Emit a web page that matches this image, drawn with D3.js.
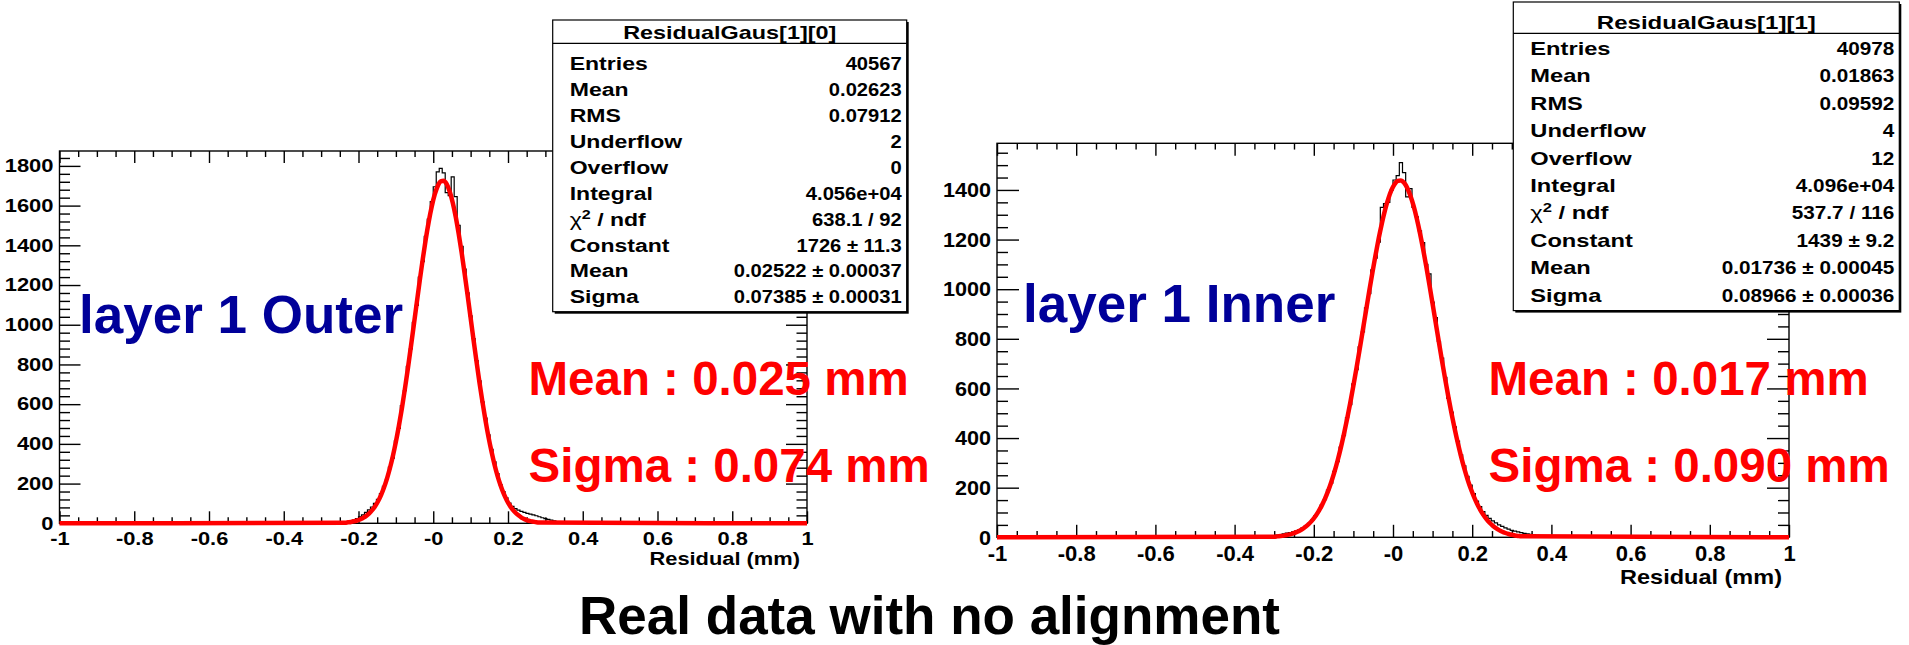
<!DOCTYPE html>
<html>
<head>
<meta charset="utf-8">
<script src="https://cdn.jsdelivr.net/npm/d3@7"></script>
<style>
  html, body { margin: 0; padding: 0; background: #fff; }
  svg { display: block; font-family: "Liberation Sans", Arial, Helvetica, sans-serif; }
</style>
</head>
<body>
<div id="chart"></div>
<script>
// ---- data ----
const binWidth = 0.008;

// layer 1 Outer: bin contents, first bin starts at -0.240
const outerStart = -0.240;
const outerCounts = [5, 8, 12, 16, 24, 32, 42, 55, 68, 82,
  100, 120, 150, 186, 221, 283, 328, 415, 478, 593,
  668, 790, 878, 1012, 1098, 1240, 1318, 1445, 1532, 1620,
  1695, 1770, 1788, 1765, 1665, 1650, 1745, 1645, 1500, 1395,
  1280, 1160, 1045, 930, 820, 718, 612, 530, 445, 372,
  310, 250, 195, 160, 128, 102, 85, 74, 66, 60,
  55, 50, 46, 42, 38, 33, 28, 24, 20, 16,
  12, 6, 3];
// red fit curve, sampled every 0.008 from -0.236
const outerFitStart = -0.236;
const outerFit = [3, 5, 7, 10, 14, 19, 27, 36, 49, 65,
  85, 110, 141, 179, 224, 277, 339, 410, 490, 578,
  675, 778, 887, 999, 1112, 1224, 1331, 1431, 1520, 1596,
  1656, 1699, 1722, 1725, 1708, 1671, 1616, 1545, 1459, 1363,
  1257, 1147, 1034, 921, 811, 705, 607, 516, 433, 360,
  295, 239, 192, 152, 119, 92, 70, 53, 40, 29,
  21, 15, 11, 8, 5, 4];

// layer 1 Inner: first bin starts at -0.304
const innerStart = -0.304;
const innerCounts = [6, 9, 11, 14, 17, 19, 22, 26, 31, 38,
  46, 56, 69, 86, 104, 130, 152, 190, 218, 266,
  305, 364, 410, 482, 535, 618, 676, 768, 828, 925,
  982, 1078, 1125, 1190, 1330, 1345, 1350, 1398, 1440, 1458,
  1510, 1470, 1372, 1405, 1330, 1292, 1235, 1188, 1100, 1062,
  948, 885, 790, 722, 645, 560, 505, 445, 388, 332,
  288, 246, 210, 176, 146, 124, 104, 88, 76, 66,
  58, 50, 44, 38, 33, 28, 25, 22, 19, 16,
  14, 12, 10, 8, 5, 3];
const innerFitStart = -0.300;
const innerFit = [2.7, 3.7, 5.1, 6.8, 9.1, 12, 15.8, 20.6, 26.6, 34,
  43.3, 54.6, 68.4, 84.8, 104.5, 127.6, 154.7, 186, 222, 262.6,
  308.5, 359.5, 415.3, 476.2, 541.5, 611, 684.1, 759.6, 836.9, 914.8,
  991.9, 1066.9, 1138.5, 1205.6, 1266.2, 1319.4, 1363.9, 1398.9, 1423.2, 1436.4,
  1438.4, 1428.9, 1408.2, 1376.8, 1335.4, 1285, 1226.7, 1161.8, 1091.6, 1017.4,
  940.8, 863.1, 785.5, 709.1, 635.2, 564.5, 497.6, 435.2, 377.6, 325.1,
  277.6, 235.1, 197.6, 164.8, 136.3, 111.8, 91, 73.5, 58.9, 46.8,
  36.9, 28.9, 22.4, 17.3, 13.2, 10, 7.5, 5.6, 4.1];

const xTicks = [-1, -0.8, -0.6, -0.4, -0.2, 0, 0.2, 0.4, 0.6, 0.8, 1];
const xTickLabels = ["-1", "-0.8", "-0.6", "-0.4", "-0.2", "-0", "0.2", "0.4", "0.6", "0.8", "1"];
const outerYTicks = [0, 200, 400, 600, 800, 1000, 1200, 1400, 1600, 1800];
const innerYTicks = [0, 200, 400, 600, 800, 1000, 1200, 1400];

const statNames = ["Entries", "Mean", "RMS", "Underflow", "Overflow", "Integral", "chi2", "Constant", "Mean", "Sigma"];
const outerStats = ["40567", "0.02623", "0.07912", "2", "0", "4.056e+04", "638.1 / 92", "1726 \u00b1 11.3", "0.02522 \u00b1 0.00037", "0.07385 \u00b1 0.00031"];
const innerStats = ["40978", "0.01863", "0.09592", "4", "12", "4.096e+04", "537.7 / 116", "1439 \u00b1 9.2", "0.01736 \u00b1 0.00045", "0.08966 \u00b1 0.00036"];

// ---- page ----
const W = 1909, H = 645;
const svg = d3.select("#chart").append("svg")
    .attr("width", W)
    .attr("height", H);
svg.append("rect").attr("width", W).attr("height", H).attr("fill", "#fff");

// small helper: text that can be stretched sideways (the slide images are stretched)
function putText(parent, str, x, y, size, anchor, sx, color) {
    return parent.append("text")
        .attr("transform", `translate(${x},${y}) scale(${sx},1)`)
        .attr("text-anchor", anchor)
        .attr("font-size", size)
        .attr("font-weight", "bold")
        .attr("fill", color || "#000")
        .text(str);
}

function drawPanel(p) {
    const x = d3.scaleLinear().domain([-1, 1]).range([p.x0, p.x1]);
    const y = d3.scaleLinear().domain([0, p.yMax]).range([p.yBot, p.yTop]);
    const g = svg.append("g");

    const xMinor = d3.range(-1, 1.0001, 0.05).filter(v => Math.abs(v * 5 - Math.round(v * 5)) > 1e-6);
    const yMinor = d3.range(0, p.yMax, p.yMinor).filter(v => v % 200 !== 0);

    function axis(gen, tr) {
        const a = g.append("g").attr("transform", tr).attr("font-family", null).call(gen);
        a.select(".domain").remove();
        a.selectAll("line").attr("stroke-width", 1.4);
        return a;
    }

    // x axis bottom, with labels
    const bx = axis(d3.axisBottom(x).tickValues(xTicks).tickSize(-p.tickX)
        .tickPadding(p.xPad).tickFormat((d, i) => xTickLabels[i]), `translate(0,${p.yBot})`);
    bx.selectAll("text")
        .attr("font-size", p.xFont).attr("font-weight", "bold").attr("fill", "#000")
        .attr("transform", `scale(${p.xStretch},1)`);
    axis(d3.axisBottom(x).tickValues(xMinor).tickSize(-p.tickX / 2).tickFormat(""), `translate(0,${p.yBot})`);
    // x axis top, ticks only
    axis(d3.axisTop(x).tickValues(xTicks).tickSize(-p.tickX).tickFormat(""), `translate(0,${p.yTop})`);
    axis(d3.axisTop(x).tickValues(xMinor).tickSize(-p.tickX / 2).tickFormat(""), `translate(0,${p.yTop})`);

    // y axis left, with labels
    const ly = axis(d3.axisLeft(y).tickValues(p.yTicks).tickSize(-p.tickY).tickPadding(6)
        .tickFormat(d3.format("d")), `translate(${p.x0},0)`);
    ly.selectAll("text")
        .attr("x", 0)
        .attr("font-size", p.yFont).attr("font-weight", "bold").attr("fill", "#000")
        .attr("transform", `translate(-6,0) scale(${p.yStretch},1)`);
    axis(d3.axisLeft(y).tickValues(yMinor).tickSize(-p.tickY / 2).tickFormat(""), `translate(${p.x0},0)`);
    // y axis right, ticks only
    axis(d3.axisRight(y).tickValues(p.yTicks).tickSize(-p.tickY).tickFormat(""), `translate(${p.x1},0)`);
    axis(d3.axisRight(y).tickValues(yMinor).tickSize(-p.tickY / 2).tickFormat(""), `translate(${p.x1},0)`);

    // frame
    g.append("rect")
        .attr("x", p.x0).attr("y", p.yTop)
        .attr("width", p.x1 - p.x0).attr("height", p.yBot - p.yTop)
        .attr("fill", "none").attr("stroke", "#000").attr("stroke-width", 1.4);

    // histogram as a step outline
    const pts = [{ x: -1, y: 0 }]
        .concat(p.counts.map((c, i) => ({ x: p.start + i * binWidth, y: c })))
        .concat([{ x: p.start + p.counts.length * binWidth, y: 0 }, { x: 1, y: 0 }]);
    g.append("path")
        .attr("d", d3.line().x(d => x(d.x)).y(d => y(d.y)).curve(d3.curveStepAfter)(pts))
        .attr("fill", "none").attr("stroke", "#000").attr("stroke-width", 1.2);

    // gaussian fit, red
    const fpts = [{ x: -1, y: 0 }]
        .concat(p.fit.map((v, i) => ({ x: p.fitStart + i * binWidth, y: v })))
        .concat([{ x: 1, y: 0 }]);
    g.append("path")
        .attr("d", d3.line().x(d => x(d.x)).y(d => y(d.y)).curve(d3.curveMonotoneX)(fpts))
        .attr("fill", "none").attr("stroke", "#ff0000").attr("stroke-width", 4.5)
        .attr("stroke-linejoin", "round");

    // axis title
    putText(g, "Residual (mm)", p.x1 - 7, p.titleY, p.titleFont, "end", p.titleStretch);
}

function drawStats(b, title, values) {
    const g = svg.append("g");
    g.append("rect").attr("x", b.x + 2).attr("y", b.y + 2).attr("width", b.w).attr("height", b.h).attr("fill", "#000");
    g.append("rect").attr("x", b.x).attr("y", b.y).attr("width", b.w).attr("height", b.h)
        .attr("fill", "#fff").attr("stroke", "#000").attr("stroke-width", 1.2);
    g.append("line").attr("x1", b.x).attr("x2", b.x + b.w).attr("y1", b.sep).attr("y2", b.sep)
        .attr("stroke", "#000").attr("stroke-width", 1.2);
    putText(g, title, b.x + b.w / 2, b.titleY, b.font, "middle", 1.3);
    statNames.forEach((name, i) => {
        const yy = b.row0 + i * b.pitch;
        if (name === "chi2") {
            const t = putText(g, "", b.x + 17, yy, b.font, "start", 1.28);
            t.append("tspan").attr("font-weight", "normal").text("\u03c7");
            t.append("tspan").attr("font-size", b.font * 0.7).attr("dy", -7).text("2");
            t.append("tspan").attr("dy", 7).text(" / ndf");
        } else {
            putText(g, name, b.x + 17, yy, b.font, "start", 1.28);
        }
        putText(g, values[i], b.x + b.w - 5, yy, b.font, "end", 1.12);
    });
}

drawPanel({
    counts: outerCounts, start: outerStart, fit: outerFit, fitStart: outerFitStart, yTicks: outerYTicks,
    x0: 59.5, x1: 807, yTop: 151, yBot: 523.3, yMax: 1875, yMinor: 40,
    tickX: 12, tickY: 21,
    xFont: 17.5, xStretch: 1.25, xPad: 9,
    yFont: 18, yStretch: 1.22,
    titleY: 565, titleFont: 19, titleStretch: 1.15
});
drawPanel({
    counts: innerCounts, start: innerStart, fit: innerFit, fitStart: innerFitStart, yTicks: innerYTicks,
    x0: 997, x1: 1789, yTop: 143.3, yBot: 537.3, yMax: 1588, yMinor: 50,
    tickX: 12.5, tickY: 22,
    xFont: 22, xStretch: 1.0, xPad: 8,
    yFont: 21, yStretch: 1.03,
    titleY: 584, titleFont: 21, titleStretch: 1.12
});

drawStats({ x: 552.7, y: 20, w: 354, h: 291.7, sep: 43.3, titleY: 38.8, row0: 70, pitch: 25.93, font: 18 },
    "ResidualGaus[1][0]", outerStats);
drawStats({ x: 1513.3, y: 2, w: 386, h: 308.6, sep: 33.3, titleY: 28.8, row0: 55, pitch: 27.4, font: 18.5 },
    "ResidualGaus[1][1]", innerStats);

// slide annotations
const notes = svg.append("g");
putText(notes, "layer 1 Outer", 79, 333, 53, "start", 1, "#000099");
putText(notes, "layer 1 Inner", 1023, 321.7, 53, "start", 1, "#000099");
putText(notes, "Mean : 0.025 mm", 528.5, 395, 47.5, "start", 1, "#ff0000");
putText(notes, "Sigma : 0.074 mm", 528.5, 482, 47.5, "start", 1, "#ff0000");
putText(notes, "Mean : 0.017 mm", 1488.5, 395, 47.5, "start", 1, "#ff0000");
putText(notes, "Sigma : 0.090 mm", 1488.5, 482, 47.5, "start", 1, "#ff0000");
putText(notes, "Real data with no alignment", 929.5, 634, 53, "middle", 1);
</script>
</body>
</html>
